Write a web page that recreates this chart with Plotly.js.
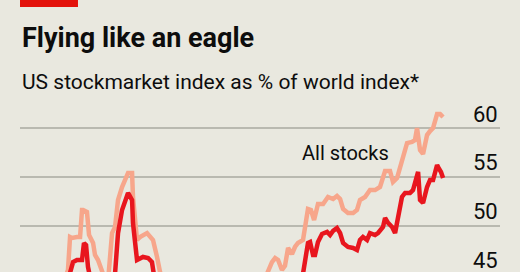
<!DOCTYPE html>
<html>
<head>
<meta charset="utf-8">
<script src="https://cdn.plot.ly/plotly-3.0.1.min.js"></script>
<style>
  html, body { margin: 0; padding: 0; background: #e9e8df; overflow: hidden; }
  #chart { width: 520px; height: 272px; }
</style>
</head>
<body>
<div id="chart"></div>
<script>
// Time (fractional years) and values (% of world index)
const allStocksYears = [
  1992.0, 1994.0, 1995.3, 1995.69, 1995.85, 1996.0, 1996.38, 1996.62, 1996.77, 1996.85, 1997.15, 1997.31,
  1997.62, 1997.77, 1998.0, 1998.31, 1998.54, 1998.8, 1999.08, 1999.31, 1999.54, 1999.85, 2000.08, 2000.31,
  2000.62, 2000.69, 2001.0, 2001.23, 2001.77, 2002.23, 2002.54, 2002.77, 2003.5, 2005.0, 2007.0, 2009.0,
  2010.5, 2011.0, 2011.38, 2011.62, 2011.85, 2012.15, 2012.38, 2012.62, 2012.92, 2013.15, 2013.38, 2013.77,
  2014.08, 2014.15, 2014.38, 2014.62, 2014.92, 2015.31, 2015.69, 2016.08, 2016.38, 2016.62, 2016.85, 2017.23,
  2017.62, 2017.92, 2018.15, 2018.54, 2018.92, 2019.31, 2019.69, 2020.08, 2020.46, 2020.69, 2021.0, 2021.38,
  2021.77, 2022.15, 2022.38, 2022.54, 2022.77, 2023.0, 2023.31, 2023.54, 2023.77, 2024.08, 2024.31, 2024.54
];
const allStocks = [
  42.0, 43.0, 44.0, 45.47, 48.84, 48.74, 48.84, 48.84, 51.61, 51.61, 51.40, 49.05,
  48.23, 47.00, 46.49, 45.26, 44.5, 44.8, 49.25, 49.87, 52.63, 53.96, 54.68, 55.40,
  55.40, 52.94, 48.54, 48.84, 49.25, 48.54, 46.80, 45.26, 43.5, 43.0, 42.5, 42.0,
  43.5, 45.0, 46.28, 46.69, 46.49, 45.47, 45.88, 47.72, 47.10, 47.82, 48.23, 48.54,
  50.79, 51.71, 51.61, 50.58, 52.22, 52.22, 52.94, 52.73, 53.04, 52.73, 51.71, 51.30,
  51.30, 51.61, 52.63, 52.94, 53.65, 53.65, 53.96, 55.60, 55.60, 54.47, 54.88, 56.72,
  58.46, 58.57, 58.77, 60.0, 57.75, 57.34, 59.28, 59.69, 60.0, 61.43, 61.43, 61.13
];

const darkYears = [
  1992.0, 1994.0, 1995.5, 1996.0, 1996.08, 1996.38, 1996.77, 1996.92, 1997.08, 1997.23, 1997.38, 1998.0,
  1998.8, 1999.31, 1999.54, 1999.85, 2000.08, 2000.31, 2000.62, 2000.69, 2001.0, 2001.23, 2001.46, 2001.85,
  2002.15, 2002.31, 2003.0, 2005.0, 2007.0, 2009.0, 2011.0, 2013.0, 2013.77, 2014.08, 2014.15, 2014.31,
  2014.54, 2014.69, 2014.92, 2015.23, 2015.62, 2015.85, 2016.08, 2016.38, 2016.62, 2016.85, 2017.23, 2017.62,
  2017.92, 2018.15, 2018.38, 2018.69, 2018.92, 2019.31, 2019.54, 2019.92, 2020.08, 2020.31, 2020.62, 2020.85,
  2021.08, 2021.38, 2021.62, 2022.0, 2022.23, 2022.46, 2022.62, 2022.77, 2023.0, 2023.31, 2023.54, 2023.77,
  2024.08, 2024.15, 2024.38, 2024.54
];
const darkSeries = [
  40.0, 41.0, 43.5, 45.98, 46.28, 46.49, 46.49, 48.23, 48.02, 45.77, 44.8, 43.0,
  43.5, 45.1, 49.25, 51.61, 52.43, 53.35, 52.63, 50.28, 46.49, 46.69, 46.80, 46.69,
  46.28, 44.9, 42.0, 41.5, 41.0, 40.5, 41.5, 43.5, 45.1, 47.82, 48.23, 48.33,
  47.00, 47.00, 48.33, 49.15, 49.36, 49.05, 49.46, 49.76, 49.25, 48.23, 47.82, 47.72,
  47.51, 48.54, 48.84, 48.54, 49.25, 49.05, 49.25, 49.87, 50.79, 50.28, 49.87, 49.25,
  50.89, 52.94, 53.35, 53.35, 53.65, 54.68, 55.50, 52.63, 52.32, 53.96, 54.68, 54.68,
  56.21, 56.01, 55.50, 54.88
];

const tickValues = [45, 50, 55, 60];
const tickLabels = ["45", "50", "55", "60"];

const titleText = "Flying like an eagle";
const subtitleText = "US stockmarket index as % of world index*";
const seriesLabel = "All stocks";
const seriesLabelAt = [2013.54, 57.44];

const yRange = [45.26, 62.87];
const bg = "#e9e8df";
const traces = [
  { x: allStocksYears, y: allStocks, type: "scatter", mode: "lines",
    line: { color: "#f7a68b", width: 4.5 }, hoverinfo: "skip" },
  { x: darkYears, y: darkSeries, type: "scatter", mode: "lines",
    line: { color: "#e8161e", width: 4.5 }, hoverinfo: "skip" }
];

// tick labels sit above their gridlines, right-aligned (Economist style)
const annotations = tickValues.map((v, i) => ({
  x: 1, xref: "paper", xanchor: "right",
  y: (v - yRange[0]) / (yRange[1] - yRange[0]), yref: "paper", yanchor: "middle", yshift: 14,
  text: tickLabels[i], showarrow: false,
  font: { family: "Roboto, sans-serif", size: 22, color: "#0d0d0d" }
}));
annotations.push({
  x: seriesLabelAt[0], xref: "x", xanchor: "left",
  y: seriesLabelAt[1], yref: "y", yanchor: "middle",
  text: seriesLabel, showarrow: false,
  font: { family: "Roboto, sans-serif", size: 20, color: "#0d0d0d" }
});
annotations.push({
  x: 0, xref: "paper", xanchor: "left", y: 1.1047, yref: "paper", yanchor: "middle",
  text: subtitleText, showarrow: false,
  font: { family: "Roboto, sans-serif", size: 21, color: "#0d0d0d" }
});
annotations.push({
  x: 0, xref: "paper", xanchor: "left", y: 1.3605, yref: "paper", yanchor: "middle",
  text: "<b>" + titleText + "</b>", showarrow: false,
  font: { family: "Roboto, sans-serif", size: 27, color: "#0d0d0d" }
});

const layout = {
  width: 520, height: 272,
  margin: { l: 20, r: 20, t: 100, b: 0, pad: 0 },
  paper_bgcolor: bg, plot_bgcolor: bg,
  showlegend: false,
  xaxis: { range: [1992, 2028.92], visible: false, fixedrange: true },
  yaxis: { range: yRange, tickvals: tickValues, showticklabels: false,
           showgrid: true, gridcolor: "#b9b9b0", gridwidth: 1.6, zeroline: false,
           showline: false, ticks: "", fixedrange: true },
  shapes: [{
    type: "rect", xref: "paper", yref: "paper",
    x0: 0, x1: 0.1208, y0: 1.5407, y1: 1.5814,
    fillcolor: "#e3120b", line: { width: 0 }, layer: "above"
  }],
  annotations: annotations
};

Plotly.newPlot("chart", traces, layout, { staticPlot: true, displayModeBar: false });
</script>
</body>
</html>
